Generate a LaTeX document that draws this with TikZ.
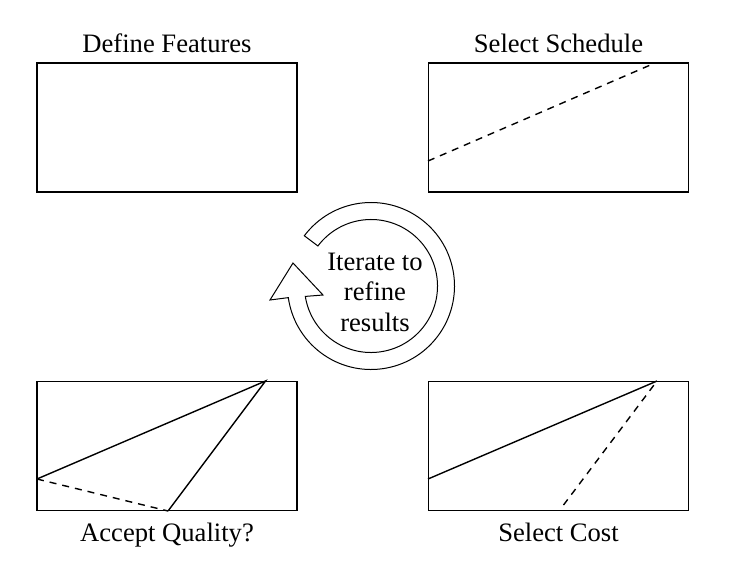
\documentclass[tikz,border=0pt]{standalone}
\usepackage{fontspec}
\setmainfont{Liberation Serif}
\begin{document}
\begin{tikzpicture}[x=0.5pt,y=0.5pt,
  box/.style={draw,line width=0.9pt,inner sep=0pt,minimum width=130pt,minimum height=64.5pt},
  lbl/.style={font=\fontsize{13.3}{15}\selectfont,inner sep=0pt,anchor=base},
  ln/.style={line width=0.7pt},
  dln/.style={line width=0.7pt,dash pattern=on 3.5pt off 3pt},
  ring/.style={line width=0.5pt,fill=white}]
\useasboundingbox (0,0) rectangle (749,564);
% boxes
\node[box] (tl) at (167,436.5) {};
\node[box] (tr) at (558.5,436.5) {};
\node[box] (bl) at (167,118) {};
\node[box] (br) at (558.5,118) {};
% labels
\node[lbl] (ltl) at (167,512) {Define Features};
\node[lbl] (ltr) at (558.5,512) {Select Schedule};
\node[lbl] (lbl) at (167,22.5) {Accept Quality?};
\node[lbl] (lbr) at (558.5,23) {Select Cost};
% lines in Select Schedule
\coordinate (s1) at (428,403);
\coordinate (s2) at (655,501);
\draw[dln] (s1) -- (s2);
% lines in Accept Quality
\coordinate (q1) at (37,85);
\coordinate (q2) at (265.5,183);
\coordinate (q3) at (168,53);
\draw[ln] (q1) -- (q2) -- (q3);
\draw[dln] (q1) -- (q3);
% lines in Select Cost
\coordinate (c1) at (428,85);
\coordinate (c2) at (657,183);
\coordinate (c3) at (563.5,59);
\draw[ln] (c1) -- (c2);
\draw[dln] (c3) -- (c2);
% circular arrow
\coordinate (o) at (371,278);
\draw[ring] ([shift={(143:83.5)}]o) arc[start angle=143,end angle=-172,radius=83.5]
  -- (270,264) -- (293,301) -- (323,269)
  -- ([shift={(-171:66.5)}]o) arc[start angle=-171,end angle=143,radius=66.5] -- cycle;
\node[lbl] (t1) at (375,294) {Iterate to};
\node[lbl] (t2) at (375,263.5) {refine};
\node[lbl] (t3) at (375,233) {results};
\end{tikzpicture}
\end{document}
